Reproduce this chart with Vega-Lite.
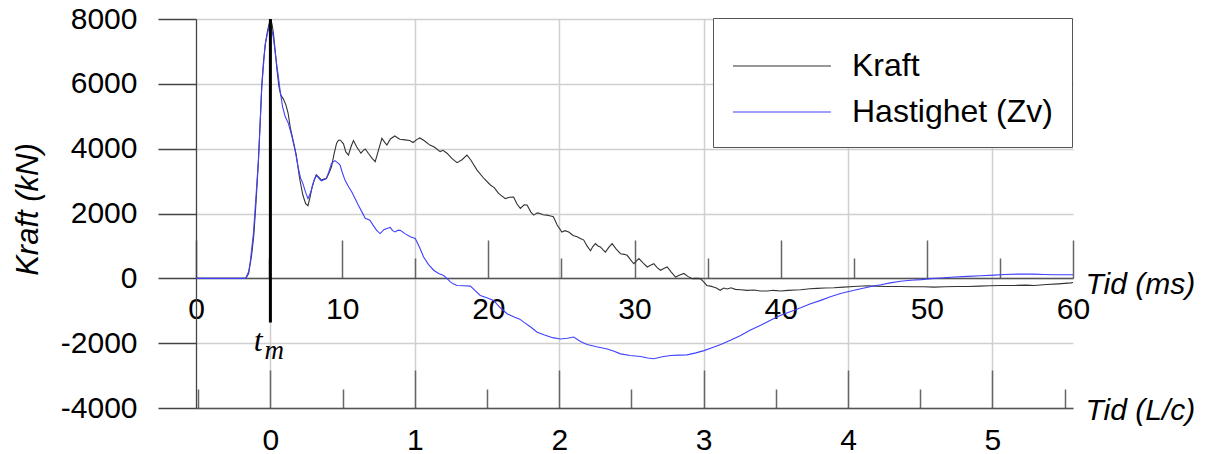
{
  "$schema": "https://vega.github.io/schema/vega-lite/v6.json",
  "width": 877,
  "height": 389,
  "autosize": {"type": "none"},
  "padding": {"left": 196, "top": 19, "right": 139, "bottom": 46},
  "config": {
    "view": {"stroke": null},
    "font": "Liberation Sans",
    "axis": {"labelFont": "Liberation Sans", "titleFont": "Liberation Sans"},
    "legend": {"labelFont": "Liberation Sans", "titleFont": "Liberation Sans"}
  },
  "datasets": {
    "curves": [
      {"ms": 0, "kN": 0, "serie": "Kraft"},
      {"ms": 3.4, "kN": 0, "serie": "Kraft"},
      {"ms": 3.6, "kN": 150, "serie": "Kraft"},
      {"ms": 3.8, "kN": 700, "serie": "Kraft"},
      {"ms": 3.95, "kN": 1300, "serie": "Kraft"},
      {"ms": 4.1, "kN": 2300, "serie": "Kraft"},
      {"ms": 4.27, "kN": 3600, "serie": "Kraft"},
      {"ms": 4.4, "kN": 4900, "serie": "Kraft"},
      {"ms": 4.5, "kN": 5950, "serie": "Kraft"},
      {"ms": 4.62, "kN": 6700, "serie": "Kraft"},
      {"ms": 4.75, "kN": 7250, "serie": "Kraft"},
      {"ms": 4.9, "kN": 7650, "serie": "Kraft"},
      {"ms": 5.0, "kN": 7850, "serie": "Kraft"},
      {"ms": 5.11, "kN": 7960, "serie": "Kraft"},
      {"ms": 5.2, "kN": 7850, "serie": "Kraft"},
      {"ms": 5.3, "kN": 7550, "serie": "Kraft"},
      {"ms": 5.42, "kN": 7000, "serie": "Kraft"},
      {"ms": 5.55, "kN": 6400, "serie": "Kraft"},
      {"ms": 5.68, "kN": 5900, "serie": "Kraft"},
      {"ms": 5.8, "kN": 5650, "serie": "Kraft"},
      {"ms": 5.98, "kN": 5530, "serie": "Kraft"},
      {"ms": 6.15, "kN": 5350, "serie": "Kraft"},
      {"ms": 6.3, "kN": 5100, "serie": "Kraft"},
      {"ms": 6.45, "kN": 4650, "serie": "Kraft"},
      {"ms": 6.67, "kN": 4200, "serie": "Kraft"},
      {"ms": 6.86, "kN": 3800, "serie": "Kraft"},
      {"ms": 7.09, "kN": 3080, "serie": "Kraft"},
      {"ms": 7.31, "kN": 2570, "serie": "Kraft"},
      {"ms": 7.5, "kN": 2300, "serie": "Kraft"},
      {"ms": 7.66, "kN": 2240, "serie": "Kraft"},
      {"ms": 7.8, "kN": 2500, "serie": "Kraft"},
      {"ms": 7.95, "kN": 2830, "serie": "Kraft"},
      {"ms": 8.1, "kN": 3050, "serie": "Kraft"},
      {"ms": 8.23, "kN": 3190, "serie": "Kraft"},
      {"ms": 8.4, "kN": 3120, "serie": "Kraft"},
      {"ms": 8.58, "kN": 3030, "serie": "Kraft"},
      {"ms": 8.75, "kN": 3060, "serie": "Kraft"},
      {"ms": 8.92, "kN": 3080, "serie": "Kraft"},
      {"ms": 9.1, "kN": 3250, "serie": "Kraft"},
      {"ms": 9.27, "kN": 3440, "serie": "Kraft"},
      {"ms": 9.45, "kN": 3850, "serie": "Kraft"},
      {"ms": 9.62, "kN": 4170, "serie": "Kraft"},
      {"ms": 9.75, "kN": 4260, "serie": "Kraft"},
      {"ms": 9.88, "kN": 4260, "serie": "Kraft"},
      {"ms": 10.09, "kN": 4150, "serie": "Kraft"},
      {"ms": 10.25, "kN": 3900, "serie": "Kraft"},
      {"ms": 10.43, "kN": 3800, "serie": "Kraft"},
      {"ms": 10.6, "kN": 4050, "serie": "Kraft"},
      {"ms": 10.77, "kN": 4250, "serie": "Kraft"},
      {"ms": 11.0, "kN": 4050, "serie": "Kraft"},
      {"ms": 11.28, "kN": 3860, "serie": "Kraft"},
      {"ms": 11.45, "kN": 3950, "serie": "Kraft"},
      {"ms": 11.58, "kN": 3990, "serie": "Kraft"},
      {"ms": 11.8, "kN": 3850, "serie": "Kraft"},
      {"ms": 12.05, "kN": 3700, "serie": "Kraft"},
      {"ms": 12.26, "kN": 3600, "serie": "Kraft"},
      {"ms": 12.45, "kN": 3900, "serie": "Kraft"},
      {"ms": 12.72, "kN": 4320, "serie": "Kraft"},
      {"ms": 12.9, "kN": 4200, "serie": "Kraft"},
      {"ms": 13.06, "kN": 4110, "serie": "Kraft"},
      {"ms": 13.3, "kN": 4300, "serie": "Kraft"},
      {"ms": 13.6, "kN": 4390, "serie": "Kraft"},
      {"ms": 13.94, "kN": 4290, "serie": "Kraft"},
      {"ms": 14.3, "kN": 4270, "serie": "Kraft"},
      {"ms": 14.62, "kN": 4250, "serie": "Kraft"},
      {"ms": 14.85, "kN": 4190, "serie": "Kraft"},
      {"ms": 15.1, "kN": 4280, "serie": "Kraft"},
      {"ms": 15.31, "kN": 4330, "serie": "Kraft"},
      {"ms": 15.6, "kN": 4250, "serie": "Kraft"},
      {"ms": 16.0, "kN": 4110, "serie": "Kraft"},
      {"ms": 16.3, "kN": 4050, "serie": "Kraft"},
      {"ms": 16.7, "kN": 3910, "serie": "Kraft"},
      {"ms": 16.9, "kN": 3950, "serie": "Kraft"},
      {"ms": 17.17, "kN": 3860, "serie": "Kraft"},
      {"ms": 17.5, "kN": 3700, "serie": "Kraft"},
      {"ms": 17.86, "kN": 3570, "serie": "Kraft"},
      {"ms": 18.2, "kN": 3660, "serie": "Kraft"},
      {"ms": 18.54, "kN": 3800, "serie": "Kraft"},
      {"ms": 18.8, "kN": 3650, "serie": "Kraft"},
      {"ms": 19.23, "kN": 3340, "serie": "Kraft"},
      {"ms": 19.7, "kN": 3080, "serie": "Kraft"},
      {"ms": 20.14, "kN": 2880, "serie": "Kraft"},
      {"ms": 20.4, "kN": 2800, "serie": "Kraft"},
      {"ms": 20.7, "kN": 2620, "serie": "Kraft"},
      {"ms": 21.16, "kN": 2460, "serie": "Kraft"},
      {"ms": 21.45, "kN": 2500, "serie": "Kraft"},
      {"ms": 21.73, "kN": 2510, "serie": "Kraft"},
      {"ms": 21.95, "kN": 2300, "serie": "Kraft"},
      {"ms": 22.19, "kN": 2160, "serie": "Kraft"},
      {"ms": 22.45, "kN": 2270, "serie": "Kraft"},
      {"ms": 22.65, "kN": 2260, "serie": "Kraft"},
      {"ms": 22.9, "kN": 2050, "serie": "Kraft"},
      {"ms": 23.1, "kN": 1950, "serie": "Kraft"},
      {"ms": 23.35, "kN": 2020, "serie": "Kraft"},
      {"ms": 23.53, "kN": 2000, "serie": "Kraft"},
      {"ms": 23.75, "kN": 1960, "serie": "Kraft"},
      {"ms": 23.99, "kN": 1950, "serie": "Kraft"},
      {"ms": 24.2, "kN": 1930, "serie": "Kraft"},
      {"ms": 24.45, "kN": 1900, "serie": "Kraft"},
      {"ms": 24.7, "kN": 1650, "serie": "Kraft"},
      {"ms": 25.03, "kN": 1430, "serie": "Kraft"},
      {"ms": 25.25, "kN": 1470, "serie": "Kraft"},
      {"ms": 25.5, "kN": 1430, "serie": "Kraft"},
      {"ms": 25.8, "kN": 1320, "serie": "Kraft"},
      {"ms": 26.07, "kN": 1280, "serie": "Kraft"},
      {"ms": 26.3, "kN": 1230, "serie": "Kraft"},
      {"ms": 26.53, "kN": 1180, "serie": "Kraft"},
      {"ms": 26.75, "kN": 1000, "serie": "Kraft"},
      {"ms": 26.99, "kN": 850, "serie": "Kraft"},
      {"ms": 27.15, "kN": 980, "serie": "Kraft"},
      {"ms": 27.33, "kN": 1070, "serie": "Kraft"},
      {"ms": 27.5, "kN": 1000, "serie": "Kraft"},
      {"ms": 27.67, "kN": 970, "serie": "Kraft"},
      {"ms": 27.85, "kN": 880, "serie": "Kraft"},
      {"ms": 28.01, "kN": 810, "serie": "Kraft"},
      {"ms": 28.25, "kN": 960, "serie": "Kraft"},
      {"ms": 28.47, "kN": 1070, "serie": "Kraft"},
      {"ms": 28.75, "kN": 900, "serie": "Kraft"},
      {"ms": 29.05, "kN": 760, "serie": "Kraft"},
      {"ms": 29.3, "kN": 740, "serie": "Kraft"},
      {"ms": 29.5, "kN": 710, "serie": "Kraft"},
      {"ms": 29.75, "kN": 560, "serie": "Kraft"},
      {"ms": 29.95, "kN": 450, "serie": "Kraft"},
      {"ms": 30.1, "kN": 520, "serie": "Kraft"},
      {"ms": 30.3, "kN": 610, "serie": "Kraft"},
      {"ms": 30.6, "kN": 470, "serie": "Kraft"},
      {"ms": 30.87, "kN": 350, "serie": "Kraft"},
      {"ms": 31.1, "kN": 400, "serie": "Kraft"},
      {"ms": 31.32, "kN": 450, "serie": "Kraft"},
      {"ms": 31.55, "kN": 330, "serie": "Kraft"},
      {"ms": 31.78, "kN": 250, "serie": "Kraft"},
      {"ms": 32.0, "kN": 300, "serie": "Kraft"},
      {"ms": 32.24, "kN": 350, "serie": "Kraft"},
      {"ms": 32.5, "kN": 200, "serie": "Kraft"},
      {"ms": 32.81, "kN": 40, "serie": "Kraft"},
      {"ms": 33.1, "kN": 100, "serie": "Kraft"},
      {"ms": 33.38, "kN": 150, "serie": "Kraft"},
      {"ms": 33.65, "kN": 60, "serie": "Kraft"},
      {"ms": 33.95, "kN": -10, "serie": "Kraft"},
      {"ms": 34.2, "kN": 0, "serie": "Kraft"},
      {"ms": 34.5, "kN": -10, "serie": "Kraft"},
      {"ms": 34.75, "kN": -120, "serie": "Kraft"},
      {"ms": 34.95, "kN": -220, "serie": "Kraft"},
      {"ms": 35.2, "kN": -240, "serie": "Kraft"},
      {"ms": 35.4, "kN": -270, "serie": "Kraft"},
      {"ms": 35.6, "kN": -300, "serie": "Kraft"},
      {"ms": 35.86, "kN": -370, "serie": "Kraft"},
      {"ms": 36.1, "kN": -300, "serie": "Kraft"},
      {"ms": 36.35, "kN": -330, "serie": "Kraft"},
      {"ms": 36.6, "kN": -290, "serie": "Kraft"},
      {"ms": 36.9, "kN": -340, "serie": "Kraft"},
      {"ms": 37.26, "kN": -350, "serie": "Kraft"},
      {"ms": 37.7, "kN": -370, "serie": "Kraft"},
      {"ms": 38.2, "kN": -360, "serie": "Kraft"},
      {"ms": 38.6, "kN": -390, "serie": "Kraft"},
      {"ms": 39.09, "kN": -390, "serie": "Kraft"},
      {"ms": 39.5, "kN": -370, "serie": "Kraft"},
      {"ms": 40.0, "kN": -390, "serie": "Kraft"},
      {"ms": 40.5, "kN": -370, "serie": "Kraft"},
      {"ms": 41.0, "kN": -360, "serie": "Kraft"},
      {"ms": 41.37, "kN": -350, "serie": "Kraft"},
      {"ms": 42.0, "kN": -320, "serie": "Kraft"},
      {"ms": 42.5, "kN": -310, "serie": "Kraft"},
      {"ms": 43.0, "kN": -300, "serie": "Kraft"},
      {"ms": 43.65, "kN": -290, "serie": "Kraft"},
      {"ms": 44.3, "kN": -270, "serie": "Kraft"},
      {"ms": 45.0, "kN": -250, "serie": "Kraft"},
      {"ms": 45.94, "kN": -230, "serie": "Kraft"},
      {"ms": 46.5, "kN": -240, "serie": "Kraft"},
      {"ms": 47.2, "kN": -250, "serie": "Kraft"},
      {"ms": 48.2, "kN": -250, "serie": "Kraft"},
      {"ms": 49.0, "kN": -260, "serie": "Kraft"},
      {"ms": 49.8, "kN": -260, "serie": "Kraft"},
      {"ms": 50.5, "kN": -270, "serie": "Kraft"},
      {"ms": 51.2, "kN": -260, "serie": "Kraft"},
      {"ms": 52.0, "kN": -250, "serie": "Kraft"},
      {"ms": 52.8, "kN": -250, "serie": "Kraft"},
      {"ms": 53.6, "kN": -240, "serie": "Kraft"},
      {"ms": 54.3, "kN": -230, "serie": "Kraft"},
      {"ms": 55.07, "kN": -220, "serie": "Kraft"},
      {"ms": 56.0, "kN": -220, "serie": "Kraft"},
      {"ms": 56.8, "kN": -210, "serie": "Kraft"},
      {"ms": 57.35, "kN": -220, "serie": "Kraft"},
      {"ms": 58.2, "kN": -190, "serie": "Kraft"},
      {"ms": 59.0, "kN": -170, "serie": "Kraft"},
      {"ms": 59.86, "kN": -140, "serie": "Kraft"},
      {"ms": 60, "kN": -130, "serie": "Kraft"},
      {"ms": 0, "kN": 0, "serie": "Hastighet (Zv)"},
      {"ms": 3.4, "kN": 0, "serie": "Hastighet (Zv)"},
      {"ms": 3.6, "kN": 200, "serie": "Hastighet (Zv)"},
      {"ms": 3.7, "kN": 460, "serie": "Hastighet (Zv)"},
      {"ms": 3.93, "kN": 1390, "serie": "Hastighet (Zv)"},
      {"ms": 4.1, "kN": 2500, "serie": "Hastighet (Zv)"},
      {"ms": 4.27, "kN": 3650, "serie": "Hastighet (Zv)"},
      {"ms": 4.4, "kN": 4900, "serie": "Hastighet (Zv)"},
      {"ms": 4.5, "kN": 5900, "serie": "Hastighet (Zv)"},
      {"ms": 4.62, "kN": 6600, "serie": "Hastighet (Zv)"},
      {"ms": 4.73, "kN": 7200, "serie": "Hastighet (Zv)"},
      {"ms": 4.88, "kN": 7550, "serie": "Hastighet (Zv)"},
      {"ms": 5.02, "kN": 7780, "serie": "Hastighet (Zv)"},
      {"ms": 5.1, "kN": 7780, "serie": "Hastighet (Zv)"},
      {"ms": 5.2, "kN": 7650, "serie": "Hastighet (Zv)"},
      {"ms": 5.3, "kN": 7400, "serie": "Hastighet (Zv)"},
      {"ms": 5.41, "kN": 7000, "serie": "Hastighet (Zv)"},
      {"ms": 5.52, "kN": 6600, "serie": "Hastighet (Zv)"},
      {"ms": 5.64, "kN": 6200, "serie": "Hastighet (Zv)"},
      {"ms": 5.75, "kN": 5810, "serie": "Hastighet (Zv)"},
      {"ms": 5.92, "kN": 5300, "serie": "Hastighet (Zv)"},
      {"ms": 6.1, "kN": 4990, "serie": "Hastighet (Zv)"},
      {"ms": 6.32, "kN": 4780, "serie": "Hastighet (Zv)"},
      {"ms": 6.55, "kN": 4400, "serie": "Hastighet (Zv)"},
      {"ms": 6.78, "kN": 3950, "serie": "Hastighet (Zv)"},
      {"ms": 7.0, "kN": 3400, "serie": "Hastighet (Zv)"},
      {"ms": 7.15, "kN": 3100, "serie": "Hastighet (Zv)"},
      {"ms": 7.31, "kN": 2930, "serie": "Hastighet (Zv)"},
      {"ms": 7.5, "kN": 2650, "serie": "Hastighet (Zv)"},
      {"ms": 7.66, "kN": 2460, "serie": "Hastighet (Zv)"},
      {"ms": 7.78, "kN": 2580, "serie": "Hastighet (Zv)"},
      {"ms": 7.89, "kN": 2720, "serie": "Hastighet (Zv)"},
      {"ms": 8.05, "kN": 2980, "serie": "Hastighet (Zv)"},
      {"ms": 8.23, "kN": 3190, "serie": "Hastighet (Zv)"},
      {"ms": 8.4, "kN": 3080, "serie": "Hastighet (Zv)"},
      {"ms": 8.58, "kN": 3010, "serie": "Hastighet (Zv)"},
      {"ms": 8.75, "kN": 3040, "serie": "Hastighet (Zv)"},
      {"ms": 8.92, "kN": 3080, "serie": "Hastighet (Zv)"},
      {"ms": 9.1, "kN": 3300, "serie": "Hastighet (Zv)"},
      {"ms": 9.27, "kN": 3550, "serie": "Hastighet (Zv)"},
      {"ms": 9.5, "kN": 3630, "serie": "Hastighet (Zv)"},
      {"ms": 9.7, "kN": 3560, "serie": "Hastighet (Zv)"},
      {"ms": 9.85, "kN": 3500, "serie": "Hastighet (Zv)"},
      {"ms": 10.0, "kN": 3280, "serie": "Hastighet (Zv)"},
      {"ms": 10.19, "kN": 3030, "serie": "Hastighet (Zv)"},
      {"ms": 10.45, "kN": 2820, "serie": "Hastighet (Zv)"},
      {"ms": 10.65, "kN": 2670, "serie": "Hastighet (Zv)"},
      {"ms": 10.9, "kN": 2450, "serie": "Hastighet (Zv)"},
      {"ms": 11.1, "kN": 2260, "serie": "Hastighet (Zv)"},
      {"ms": 11.35, "kN": 2050, "serie": "Hastighet (Zv)"},
      {"ms": 11.58, "kN": 1850, "serie": "Hastighet (Zv)"},
      {"ms": 11.9, "kN": 1790, "serie": "Hastighet (Zv)"},
      {"ms": 12.1, "kN": 1650, "serie": "Hastighet (Zv)"},
      {"ms": 12.36, "kN": 1480, "serie": "Hastighet (Zv)"},
      {"ms": 12.6, "kN": 1380, "serie": "Hastighet (Zv)"},
      {"ms": 12.85, "kN": 1500, "serie": "Hastighet (Zv)"},
      {"ms": 13.06, "kN": 1540, "serie": "Hastighet (Zv)"},
      {"ms": 13.29, "kN": 1570, "serie": "Hastighet (Zv)"},
      {"ms": 13.45, "kN": 1470, "serie": "Hastighet (Zv)"},
      {"ms": 13.63, "kN": 1430, "serie": "Hastighet (Zv)"},
      {"ms": 13.8, "kN": 1480, "serie": "Hastighet (Zv)"},
      {"ms": 13.97, "kN": 1480, "serie": "Hastighet (Zv)"},
      {"ms": 14.3, "kN": 1380, "serie": "Hastighet (Zv)"},
      {"ms": 14.66, "kN": 1280, "serie": "Hastighet (Zv)"},
      {"ms": 15.0, "kN": 1230, "serie": "Hastighet (Zv)"},
      {"ms": 15.3, "kN": 950, "serie": "Hastighet (Zv)"},
      {"ms": 15.57, "kN": 660, "serie": "Hastighet (Zv)"},
      {"ms": 15.9, "kN": 430, "serie": "Hastighet (Zv)"},
      {"ms": 16.26, "kN": 250, "serie": "Hastighet (Zv)"},
      {"ms": 16.6, "kN": 150, "serie": "Hastighet (Zv)"},
      {"ms": 16.94, "kN": 90, "serie": "Hastighet (Zv)"},
      {"ms": 17.2, "kN": -20, "serie": "Hastighet (Zv)"},
      {"ms": 17.4, "kN": -110, "serie": "Hastighet (Zv)"},
      {"ms": 17.6, "kN": -170, "serie": "Hastighet (Zv)"},
      {"ms": 17.85, "kN": -220, "serie": "Hastighet (Zv)"},
      {"ms": 18.3, "kN": -230, "serie": "Hastighet (Zv)"},
      {"ms": 18.77, "kN": -240, "serie": "Hastighet (Zv)"},
      {"ms": 19.1, "kN": -380, "serie": "Hastighet (Zv)"},
      {"ms": 19.45, "kN": -530, "serie": "Hastighet (Zv)"},
      {"ms": 19.9, "kN": -600, "serie": "Hastighet (Zv)"},
      {"ms": 20.36, "kN": -680, "serie": "Hastighet (Zv)"},
      {"ms": 20.8, "kN": -900, "serie": "Hastighet (Zv)"},
      {"ms": 21.28, "kN": -1090, "serie": "Hastighet (Zv)"},
      {"ms": 21.8, "kN": -1200, "serie": "Hastighet (Zv)"},
      {"ms": 22.15, "kN": -1260, "serie": "Hastighet (Zv)"},
      {"ms": 22.42, "kN": -1350, "serie": "Hastighet (Zv)"},
      {"ms": 22.9, "kN": -1500, "serie": "Hastighet (Zv)"},
      {"ms": 23.34, "kN": -1660, "serie": "Hastighet (Zv)"},
      {"ms": 23.8, "kN": -1740, "serie": "Hastighet (Zv)"},
      {"ms": 24.4, "kN": -1830, "serie": "Hastighet (Zv)"},
      {"ms": 24.93, "kN": -1870, "serie": "Hastighet (Zv)"},
      {"ms": 25.4, "kN": -1850, "serie": "Hastighet (Zv)"},
      {"ms": 25.84, "kN": -1810, "serie": "Hastighet (Zv)"},
      {"ms": 26.3, "kN": -1950, "serie": "Hastighet (Zv)"},
      {"ms": 26.76, "kN": -2040, "serie": "Hastighet (Zv)"},
      {"ms": 27.4, "kN": -2110, "serie": "Hastighet (Zv)"},
      {"ms": 28.13, "kN": -2180, "serie": "Hastighet (Zv)"},
      {"ms": 28.6, "kN": -2250, "serie": "Hastighet (Zv)"},
      {"ms": 29.04, "kN": -2330, "serie": "Hastighet (Zv)"},
      {"ms": 29.7, "kN": -2380, "serie": "Hastighet (Zv)"},
      {"ms": 30.41, "kN": -2410, "serie": "Hastighet (Zv)"},
      {"ms": 30.9, "kN": -2460, "serie": "Hastighet (Zv)"},
      {"ms": 31.32, "kN": -2480, "serie": "Hastighet (Zv)"},
      {"ms": 31.9, "kN": -2420, "serie": "Hastighet (Zv)"},
      {"ms": 32.47, "kN": -2380, "serie": "Hastighet (Zv)"},
      {"ms": 33.0, "kN": -2370, "serie": "Hastighet (Zv)"},
      {"ms": 33.6, "kN": -2360, "serie": "Hastighet (Zv)"},
      {"ms": 34.2, "kN": -2300, "serie": "Hastighet (Zv)"},
      {"ms": 34.75, "kN": -2230, "serie": "Hastighet (Zv)"},
      {"ms": 35.3, "kN": -2140, "serie": "Hastighet (Zv)"},
      {"ms": 35.9, "kN": -2040, "serie": "Hastighet (Zv)"},
      {"ms": 36.6, "kN": -1900, "serie": "Hastighet (Zv)"},
      {"ms": 37.26, "kN": -1760, "serie": "Hastighet (Zv)"},
      {"ms": 37.9, "kN": -1600, "serie": "Hastighet (Zv)"},
      {"ms": 38.63, "kN": -1450, "serie": "Hastighet (Zv)"},
      {"ms": 39.3, "kN": -1290, "serie": "Hastighet (Zv)"},
      {"ms": 40.0, "kN": -1140, "serie": "Hastighet (Zv)"},
      {"ms": 40.7, "kN": -1020, "serie": "Hastighet (Zv)"},
      {"ms": 41.37, "kN": -910, "serie": "Hastighet (Zv)"},
      {"ms": 42.0, "kN": -790, "serie": "Hastighet (Zv)"},
      {"ms": 42.74, "kN": -680, "serie": "Hastighet (Zv)"},
      {"ms": 43.4, "kN": -570, "serie": "Hastighet (Zv)"},
      {"ms": 44.1, "kN": -470, "serie": "Hastighet (Zv)"},
      {"ms": 44.8, "kN": -390, "serie": "Hastighet (Zv)"},
      {"ms": 45.48, "kN": -320, "serie": "Hastighet (Zv)"},
      {"ms": 46.2, "kN": -250, "serie": "Hastighet (Zv)"},
      {"ms": 46.85, "kN": -200, "serie": "Hastighet (Zv)"},
      {"ms": 47.5, "kN": -140, "serie": "Hastighet (Zv)"},
      {"ms": 48.2, "kN": -90, "serie": "Hastighet (Zv)"},
      {"ms": 48.9, "kN": -60, "serie": "Hastighet (Zv)"},
      {"ms": 49.6, "kN": -40, "serie": "Hastighet (Zv)"},
      {"ms": 50.3, "kN": -10, "serie": "Hastighet (Zv)"},
      {"ms": 50.96, "kN": 10, "serie": "Hastighet (Zv)"},
      {"ms": 51.9, "kN": 40, "serie": "Hastighet (Zv)"},
      {"ms": 52.8, "kN": 60, "serie": "Hastighet (Zv)"},
      {"ms": 53.7, "kN": 80, "serie": "Hastighet (Zv)"},
      {"ms": 54.6, "kN": 100, "serie": "Hastighet (Zv)"},
      {"ms": 55.4, "kN": 120, "serie": "Hastighet (Zv)"},
      {"ms": 56.2, "kN": 130, "serie": "Hastighet (Zv)"},
      {"ms": 57.35, "kN": 130, "serie": "Hastighet (Zv)"},
      {"ms": 58.0, "kN": 120, "serie": "Hastighet (Zv)"},
      {"ms": 58.7, "kN": 110, "serie": "Hastighet (Zv)"},
      {"ms": 59.86, "kN": 110, "serie": "Hastighet (Zv)"},
      {"ms": 60, "kN": 110, "serie": "Hastighet (Zv)"}
    ],
    "tm": [{"lc": 0, "kN": 8000, "kN2": -1360}],
    "tmLabel": [{"lc": -0.085, "kN": -2230, "t": "t", "m": "m", "lcm": 0.027, "kNm": -2480}]
  },
  "resolve": {"scale": {"x": "independent"}, "axis": {"x": "independent"}},
  "layer": [
    {
      "data": {"name": "curves"},
      "mark": {"type": "line", "strokeWidth": 1.1},
      "encoding": {
        "x": {
          "field": "ms", "type": "quantitative", "title": "Tid (ms)",
          "scale": {"domain": [0, 60], "nice": false, "zero": false},
          "axis": {
            "orient": "bottom", "offset": -130,
            "values": [0, 5, 10, 15, 20, 25, 30, 35, 40, 45, 50, 55, 60],
            "tickSize": {"condition": {"test": "datum.value % 10 === 0", "value": -38}, "value": -20},
            "labelExpr": "datum.value % 10 === 0 ? datum.label : ''",
            "labelPadding": 54, "labelFontSize": 30, "labelColor": "#000000",
            "labelOverlap": false, "labelFlush": false, "labelBound": false,
            "domainColor": "#555555", "domainWidth": 1.5, "tickColor": "#666666", "tickWidth": 1.5,
            "grid": false,
            "titleFontSize": 30, "titleFontStyle": "italic", "titleFontWeight": "normal", "titleColor": "#000000",
            "titleAlign": "left", "titleAngle": 0, "titleBaseline": "alphabetic", "titleX": 889, "titleY": 15
          }
        },
        "y": {
          "field": "kN", "type": "quantitative", "title": "Kraft (kN)",
          "scale": {"domain": [-4000, 8000], "nice": false, "zero": false},
          "axis": {
            "values": [-4000, -3000, -2000, -1000, 0, 1000, 2000, 3000, 4000, 5000, 6000, 7000, 8000],
            "tickSize": {"condition": {"test": "datum.value % 2000 === 0", "value": 38}, "value": 19},
            "labelExpr": "datum.value % 2000 === 0 ? '' + datum.value : ''",
            "labelPadding": 21, "labelFontSize": 30, "labelColor": "#000000",
            "labelOverlap": false, "labelFlush": false, "labelBound": false,
            "domainColor": "#444444", "domainWidth": 1.3, "tickColor": "#444444", "tickWidth": 1.3,
            "grid": true, "gridColor": "#cfcfcf", "gridWidth": 1.5,
            "gridOpacity": {"condition": {"test": "datum.value % 2000 === 0", "value": 1}, "value": 0},
            "titleFontSize": 31, "titleFontStyle": "italic", "titleFontWeight": "normal", "titleColor": "#000000",
            "titleAngle": -90, "titleAlign": "center", "titleBaseline": "middle", "titleX": -168, "titleY": 190
          }
        },
        "color": {
          "field": "serie", "type": "nominal",
          "scale": {"domain": ["Kraft", "Hastighet (Zv)"], "range": ["#333333", "#4040ff"]},
          "legend": {
            "orient": "none", "legendX": 517, "legendY": -1,
            "title": " ", "titleFontSize": 8, "titlePadding": 5,
            "symbolType": "M-1,0H5.53", "symbolSize": 900, "symbolStrokeWidth": 1.2,
            "labelFontSize": 32, "labelOffset": 88, "labelColor": "#000000", "labelLimit": 500,
            "rowPadding": 14, "padding": 19,
            "strokeColor": "#555555", "fillColor": "#ffffff"
          }
        }
      }
    },
    {
      "layer": [
        {
          "data": {"name": "tm"},
          "mark": {"type": "rule", "strokeWidth": 3, "color": "#000000"},
          "encoding": {
            "x": {
              "field": "lc", "type": "quantitative", "title": "Tid (L/c)",
              "scale": {"domain": [-0.5152, 5.5577], "nice": false, "zero": false},
              "axis": {
                "orient": "bottom", "offset": 0,
                "values": [-0.5, 0, 0.5, 1, 1.5, 2, 2.5, 3, 3.5, 4, 4.5, 5, 5.5],
                "tickSize": {"condition": {"test": "datum.value % 1 === 0", "value": -38}, "value": -19},
                "labelExpr": "datum.value % 1 === 0 ? '' + datum.value : ''",
                "labelPadding": 55, "labelFontSize": 30, "labelColor": "#000000",
                "labelOverlap": false, "labelFlush": false, "labelBound": false,
                "domainColor": "#555555", "domainWidth": 1.5, "tickColor": "#666666", "tickWidth": 1.5,
                "grid": true, "gridColor": "#cfcfcf", "gridWidth": 1.5,
                "gridOpacity": {"condition": {"test": "datum.value % 1 === 0", "value": 1}, "value": 0},
                "titleFontSize": 30, "titleFontStyle": "italic", "titleFontWeight": "normal", "titleColor": "#000000",
                "titleAlign": "left", "titleAngle": 0, "titleBaseline": "alphabetic", "titleX": 889, "titleY": 11
              }
            },
            "y": {"field": "kN", "type": "quantitative", "title": "Kraft (kN)"},
            "y2": {"field": "kN2"}
          }
        },
        {
          "data": {"name": "tmLabel"},
          "mark": {"type": "text", "font": "Liberation Serif", "fontStyle": "italic", "fontSize": 32, "align": "center", "baseline": "alphabetic", "color": "#000000"},
          "encoding": {
            "x": {"field": "lc", "type": "quantitative", "title": "Tid (L/c)"},
            "y": {"field": "kN", "type": "quantitative", "title": "Kraft (kN)"},
            "text": {"field": "t"}
          }
        },
        {
          "data": {"name": "tmLabel"},
          "mark": {"type": "text", "font": "Liberation Serif", "fontStyle": "italic", "fontSize": 27, "align": "center", "baseline": "alphabetic", "color": "#000000"},
          "encoding": {
            "x": {"field": "lcm", "type": "quantitative", "title": "Tid (L/c)"},
            "y": {"field": "kNm", "type": "quantitative", "title": "Kraft (kN)"},
            "text": {"field": "m"}
          }
        }
      ]
    }
  ]
}
